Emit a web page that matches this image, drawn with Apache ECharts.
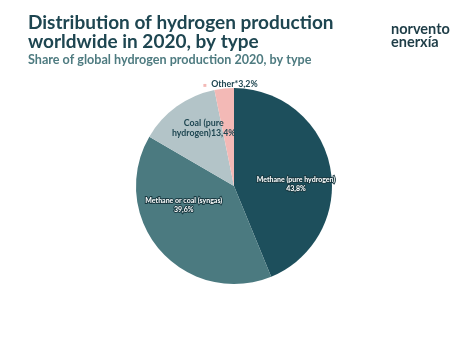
<!DOCTYPE html>
<html><head><meta charset="utf-8">
<script src="https://cdn.jsdelivr.net/npm/echarts@6/dist/echarts.min.js"></script>
<style>html,body{margin:0;padding:0;background:#fff}#c{width:474px;height:355px}</style>
</head><body><div id="c"></div>
<script>
const categories = ["Methane (pure hydrogen)", "Methane or coal (syngas)", "Coal (pure hydrogen)", "Other*"];
const labelTexts = ["Methane (pure hydrogen)\n{v}", "Methane or coal (syngas)\n{v}", "Coal (pure\nhydrogen){v}", "{d|■}  Other*{v}"];
const values = [43.8, 39.6, 13.4, 3.2];
const colors = ["#1d4f5c", "#4b7a80", "#b3c4c8", "#f3b9b6"];

const fmt = v => v.toFixed(1).replace('.', ',') + '%';
const outlined = {color:'#fff', fontSize:7, fontWeight:'bold', textBorderColor:'#1a3a42', textBorderWidth:2, lineHeight:9, fontFamily:'Lato'};
const labelStyles = [
  Object.assign({position:'inside', offset:[11,8]}, outlined),
  Object.assign({position:'inside', offset:[-11,-15]}, outlined),
  {position:'inside', offset:[0,-16], color:'#1e4651', fontSize:8.8, fontWeight:'bold', lineHeight:10, fontFamily:'Lato'},
  {position:'outside', offset:[70,11], color:'#1e4651', fontSize:8.8, fontWeight:'bold', fontFamily:'Lato', rich:{d:{color:'#f3b9b6', fontSize:6}}}
];

const data = categories.map((n,i)=>({
  name:n, value:values[i], itemStyle:{color:colors[i]},
  label:Object.assign({show:true, formatter: labelTexts[i].replace('{v}', fmt(values[i]))}, labelStyles[i]),
  labelLine:{show:false}
}));

const chart = echarts.init(document.getElementById('c'));
chart.setOption({
  backgroundColor:'#fff',
  animation:false,
  title:[
    {text:'Distribution of hydrogen production\nworldwide in 2020, by type', left:23, top:8,
     textStyle:{fontFamily:'Lato', fontSize:19, fontWeight:'bold', color:'#1e4651', lineHeight:19}},
    {text:'Share of global hydrogen production 2020, by type', left:23, top:48,
     textStyle:{fontFamily:'Lato', fontSize:12.6, fontWeight:'bold', color:'#4e7b80'}},
    {text:'norvento\nenerxía', left:386, top:18,
     textStyle:{fontFamily:'Lato', fontSize:14.5, fontWeight:'bold', color:'#1e3d47', lineHeight:13}}
  ],
  series:[{
    type:'pie', center:[234,186], radius:[0,98], startAngle:90, clockwise:true,
    label:{show:true}, labelLine:{show:false},
    data:data
  }]
});
</script></body></html>
